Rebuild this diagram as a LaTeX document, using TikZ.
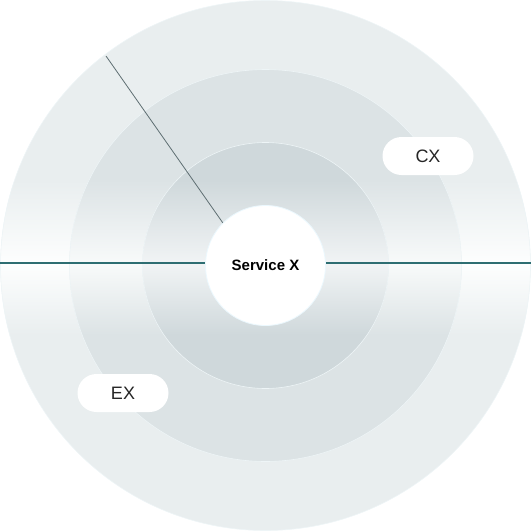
\documentclass[tikz,border=0pt]{standalone}
\usepackage{fontspec}
\setmainfont{Liberation Sans}
\definecolor{ra}{HTML}{E9EEEF}
\definecolor{ram}{HTML}{FDFEFE}
\definecolor{rb}{HTML}{DCE3E5}
\definecolor{rbm}{HTML}{F8FAFA}
\definecolor{rc}{HTML}{CFD8DB}
\definecolor{rcm}{HTML}{F1F4F5}
\definecolor{edge}{HTML}{EEF5F7}
\definecolor{axisline}{HTML}{2E6E72}
\definecolor{diagline}{HTML}{5E6E72}
\tikzset{
  ringdisk/.style={draw=edge, line width=0.6pt},
  pill/.style={rectangle, rounded corners=19pt, fill=white, minimum width=91pt, minimum height=38pt, inner sep=0pt, font=\fontsize{18}{20}\selectfont, text=black!85},
  corenode/.style={circle, inner sep=0pt, minimum size=120pt, fill=white, draw=cyan!8, line width=0.8pt, font=\bfseries\fontsize{15}{17}\selectfont}
}
\newcommand{\shadedring}[3]{%
  \fill[#2] (265.5,265.5) circle (#1);
  \begin{scope}
    \clip (265.5,265.5) circle (#1);
    \shade[top color=#2, bottom color=#3] (0,180) rectangle (531,263.5);
    \shade[top color=#3, bottom color=#2] (0,263.5) rectangle (531,335);
  \end{scope}
  \draw[ringdisk] (265.5,265.5) circle (#1);
}
\begin{document}
\begin{tikzpicture}[x=1pt,y=-1pt]
\useasboundingbox (0,0) rectangle (531,531);
\shadedring{265}{ra}{ram}
\shadedring{196}{rb}{rbm}
\shadedring{123}{rc}{rcm}
\coordinate (L) at (0,263);
\coordinate (R) at (531,263);
\draw[axisline, line width=1.2pt] (L) -- (R);
\node[corenode] (core) at (265.5,265.5) {Service X};
\coordinate (d) at (106,56);
\draw[diagline, line width=0.8pt] (d) -- (core.135);
\node[pill] (cx) at (428,156) {CX};
\node[pill] (ex) at (123,393) {EX};
\end{tikzpicture}
\end{document}
